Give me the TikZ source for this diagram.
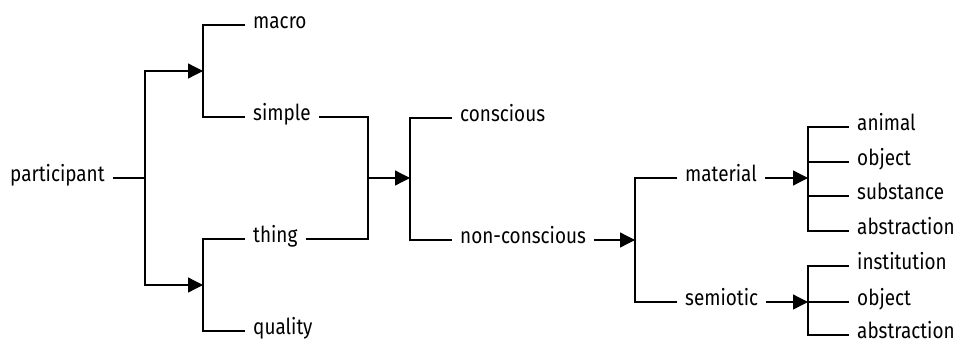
\documentclass[tikz,border=0pt]{standalone}
\usepackage{fontspec}
\setmainfont[FakeStretch=0.86]{Fira Sans}
\usetikzlibrary{arrows.meta}
\begin{document}
\begin{tikzpicture}[x=1pt,y=-1pt,
  lbl/.style={anchor=west,inner xsep=8pt,inner ysep=0pt,text height=0.64em,text depth=0pt,font=\fontsize{22}{26}\selectfont},
  ln/.style={line width=1.3pt},
  arr/.style={ln,-{Triangle[length=15pt,width=15pt]}}]
\useasboundingbox (0,0) rectangle (957,343);
% labels
\node[lbl] (participant) at (2,178) {participant};
\node[lbl] (macro) at (245,25) {macro};
\node[lbl] (simple) at (245,117) {simple};
\node[lbl] (thing) at (245,239) {thing};
\node[lbl] (quality) at (245,331) {quality};
\node[lbl] (conscious) at (452,118) {conscious};
\node[lbl] (noncon) at (452,240) {non-conscious};
\node[lbl] (material) at (677,178) {material};
\node[lbl] (semiotic) at (677,302) {semiotic};
\node[lbl] (animal) at (849,127) {animal};
\node[lbl] (objecta) at (849,162) {object};
\node[lbl] (substance) at (849,196) {substance};
\node[lbl] (abstra) at (849,231) {abstraction};
\node[lbl] (institution) at (849,266) {institution};
\node[lbl] (objectb) at (849,302) {object};
\node[lbl] (abstrb) at (849,335) {abstraction};
% junctions
\coordinate (j1) at (145,178);
\coordinate (b1) at (203,71);
\coordinate (b2) at (203,285);
\coordinate (j2) at (368,178);
\coordinate (b3) at (410,178);
\coordinate (b4) at (635,240);
\coordinate (b5) at (808,178);
\coordinate (b6) at (808,302);
% connectors
\draw[ln] (participant.east) -- (j1);
\draw[arr] (j1) |- (b1);
\draw[arr] (j1) |- (b2);
\draw[ln] (macro.west) -| (b1) |- (simple.west);
\draw[ln] (thing.west) -| (b2) |- (quality.west);
\draw[ln] (simple.east) -| (j2) |- (thing.east);
\draw[arr] (j2) -- (b3);
\draw[ln] (conscious.west) -| (b3) |- (noncon.west);
\draw[arr] (noncon.east) -- (b4);
\draw[ln] (material.west) -| (b4) |- (semiotic.west);
\draw[arr] (material.east) -- (b5);
\draw[arr] (semiotic.east) -- (b6);
\draw[ln] (animal.west) -| (b5) |- (abstra.west);
\draw[ln] (objecta.west) -- (objecta.west -| b5);
\draw[ln] (substance.west) -- (substance.west -| b5);
\draw[ln] (institution.west) -| (b6) |- (abstrb.west);
\draw[ln] (b6) -- (objectb.west);
\end{tikzpicture}
\end{document}
